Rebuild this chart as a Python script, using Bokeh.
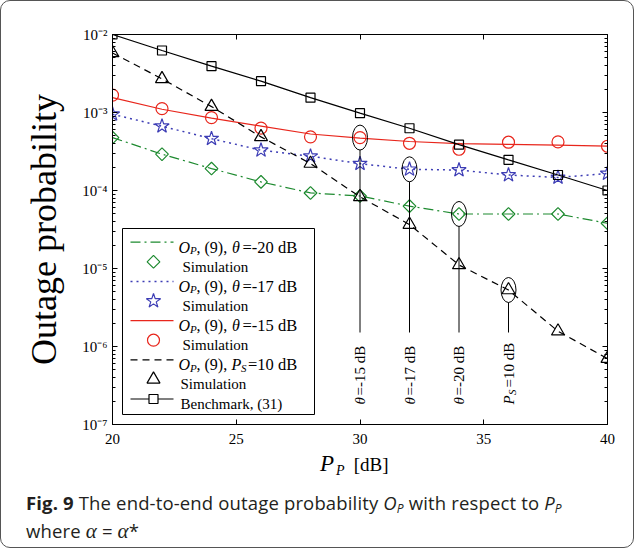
import math
from bokeh.plotting import figure
from bokeh.models import (LinearAxis, LogAxis, FixedTicker, CustomJSTickFormatter,
                          Div, Column)
from bokeh.core.properties import value
from bokeh.embed import file_html
from bokeh.resources import INLINE

# ---------------- data ----------------
pp = [20, 22, 24, 26, 28, 30, 32, 34, 36, 38, 40]

bench = [1.0e-2, 6.24e-3, 3.93e-3, 2.52e-3, 1.55e-3, 9.8e-4, 6.28e-4, 3.87e-4, 2.47e-4, 1.58e-4, 1.0e-4]
ps10 = [5.8e-3, 2.7e-3, 1.19e-3, 4.87e-4, 2.22e-4, 8.3e-5, 3.66e-5, 1.11e-5, 5.3e-6, 1.57e-6, 7.0e-7]
th15_line = [1.55e-3, 1.1e-3, 8.45e-4, 6.7e-4, 5.3e-4, 4.7e-4, 4.25e-4, 4.0e-4, 3.9e-4, 3.82e-4, 3.7e-4]
th15_sim = [1.67e-3, 1.12e-3, 8.6e-4, 6.3e-4, 4.87e-4, 4.77e-4, 4.03e-4, 3.38e-4, 4.16e-4, 4.2e-4, 3.69e-4]
th17 = [9.5e-4, 6.67e-4, 4.62e-4, 3.28e-4, 2.75e-4, 2.21e-4, 1.87e-4, 1.83e-4, 1.58e-4, 1.47e-4, 1.65e-4]
th20 = [4.77e-4, 2.92e-4, 1.91e-4, 1.29e-4, 9.3e-5, 8.5e-5, 6.3e-5, 5.0e-5, 5.0e-5, 5.0e-5, 3.8e-5]

x_ticks = [20, 25, 30, 35, 40]
y_ticks = [1e-7, 1e-6, 1e-5, 1e-4, 1e-3, 1e-2]

# indices of the circled points (theta=-15, -17, -20 dB, P_S=10 dB)
annot_idx = [5, 6, 7, 8]

GREEN = "#1d8a2f"
BLUE = "#3d3db5"
RED = "#e8261c"
SERIF = "Liberation Serif"

# ---------------- layout geometry ----------------
FW, FH = 495, 390          # frame size in px
FL, FT = 112, 34           # frame left/top on the page (for placing decorations)
X0, X1 = 20, 40
LT, LB = -2, -7


def dx(px):
    return X0 + (px - FL) * (X1 - X0) / FW


def dy(py):
    return 10 ** (LT - (py - FT) * (LT - LB) / FH)


def shift(v, px):
    # move a log-axis value down by px pixels
    return v * 10 ** (-px * (LT - LB) / FH)


p = figure(frame_width=FW, frame_height=FH, y_axis_type="log",
           x_range=(X0, X1), y_range=(10 ** LB, 10 ** LT),
           output_backend="svg", toolbar_location=None,
           min_border_left=111, min_border_right=26, min_border_top=33, min_border_bottom=30,
           background_fill_color="white", border_fill_color=None)
p.grid.visible = False
p.outline_line_color = "black"

sup_js = """
const e = Math.round(Math.log10(tick));
const m = {'-':'\u207b','0':'\u2070','1':'\u00b9','2':'\u00b2','3':'\u00b3','4':'\u2074','5':'\u2075','6':'\u2076','7':'\u2077','8':'\u2078','9':'\u2079'};
return '10' + String(e).split('').map(c => m[c]).join('');
"""
minor = [k * 10 ** e for e in range(-7, -2) for k in range(2, 10)]
yt = FixedTicker(ticks=y_ticks, minor_ticks=minor)
xt = FixedTicker(ticks=x_ticks, minor_ticks=[])
blank = CustomJSTickFormatter(code="return '';")

ax_l = p.yaxis[0]
ax_l.ticker = yt
ax_l.formatter = CustomJSTickFormatter(code=sup_js)
ax_l.axis_label = "Outage probability"
ax_l.axis_label_text_font = SERIF
ax_l.axis_label_text_font_size = "36px"
ax_l.axis_label_text_font_style = "normal"
ax_l.axis_label_text_color = "black"
ax_l.axis_label_standoff = 15
ax_l.major_label_standoff = 5

ax_b = p.xaxis[0]
ax_b.ticker = xt
ax_b.major_label_standoff = 9

ax_r = LogAxis(ticker=yt, formatter=blank)
ax_t = LinearAxis(ticker=xt, formatter=blank)
p.add_layout(ax_r, "right")
p.add_layout(ax_t, "above")

for ax in (ax_l, ax_b, ax_r, ax_t):
    ax.major_tick_in = 5
    ax.major_tick_out = 0
    ax.minor_tick_in = 3
    ax.minor_tick_out = 0
    ax.axis_line_color = "black"
    ax.major_tick_line_color = "black"
    ax.minor_tick_line_color = "black"
    ax.major_label_text_font = SERIF
    ax.major_label_text_font_size = "15px"
    ax.major_label_text_color = "black"

# ---------------- series ----------------
LW = 1.2
p.line(pp, th20, line_color=GREEN, line_width=LW, line_dash="10 4 2 4")
p.scatter(pp, th20, marker="square", angle=math.pi / 4, size=9, fill_color=None, line_color=GREEN, line_width=LW)

p.line(pp, th17, line_color=BLUE, line_width=1.5, line_dash="2 4")
p.scatter(pp, th17, marker="star", size=15, fill_color=None, line_color=BLUE, line_width=LW)

p.line(pp, th15_line, line_color=RED, line_width=LW)
p.scatter(pp, th15_sim, marker="circle", size=12, fill_color=None, line_color=RED, line_width=LW)

p.line(pp, ps10, line_color="black", line_width=LW, line_dash="7 5")
p.scatter(pp, ps10, marker="triangle", size=13, fill_color=None, line_color="black", line_width=LW)

p.line(pp, bench, line_color="black", line_width=LW)
p.scatter(pp, bench, marker="square", size=9, fill_color=None, line_color="black", line_width=LW)

# ---------------- annotations (ellipses + vertical labels) ----------------
ann_series = [th15_sim, th17, th20, ps10]
ax_x = [pp[i] for i in annot_idx]
ax_y = [s[i] for s, i in zip(ann_series, annot_idx)]
p.ellipse(ax_x, ax_y, width=15, height=25, width_units="screen", height_units="screen",
          fill_color=None, line_color="black", line_width=1)
p.segment(x0=ax_x, y0=[shift(v, 12.5) for v in ax_y], x1=ax_x, y1=[dy(332)] * 4,
          line_color="black", line_width=1)


def vtext(x, py, txt, italic=False, size=15, xoff=0):
    p.text(x=[x], y=[dy(py)], text=[txt], angle=math.pi / 2, text_align="left",
           text_baseline="middle", text_font=value(SERIF), text_font_size=f"{size}px",
           text_font_style="italic" if italic else "normal", text_color="black", x_offset=xoff)


for x, t in zip(ax_x[:3], ["=-15 dB", "=-17 dB", "=-20 dB"]):
    vtext(x, 404, "\u03b8", italic=True)
    vtext(x, 395, t)
vtext(ax_x[3], 404, "P", italic=True)
vtext(ax_x[3], 394.5, "S", italic=True, size=11, xoff=3)
vtext(ax_x[3], 387, "=10 dB")

# ---------------- legend (custom, to allow italic / subscripts) ----------------
p.quad(left=[dx(122)], right=[dx(314)], top=[dy(228)], bottom=[dy(414)],
       fill_color="white", line_color="black", line_width=1)

rows = [241.7 + 19.6 * i for i in range(9)]


def ltext(px, py, txt, italic=False, size=15):
    p.text(x=[dx(px)], y=[dy(py)], text=[txt], text_align="left", text_baseline="alphabetic",
           text_font=value(SERIF), text_font_size=f"{size}px",
           text_font_style="italic" if italic else "normal", text_color="black")


def sample_line(py, color, dash, width=LW):
    p.line([dx(130), dx(173)], [dy(py), dy(py)], line_color=color, line_width=width, line_dash=dash)


def op_label(py, tail_pieces):
    ltext(178, py + 5, "O", italic=True, size=16)
    ltext(189.5, py + 8, "P", italic=True, size=11)
    ltext(196, py + 5, ", (9), ", size=16)
    for px, t, it, sz, dyy in tail_pieces:
        ltext(px, py + dyy, t, italic=it, size=sz)


# theta = -20
sample_line(rows[0], GREEN, "10 4 2 4")
op_label(rows[0], [(231.5, "\u03b8", True, 16, 5), (242, "=-20 dB", False, 16.5, 5)])
p.scatter([dx(153)], [dy(rows[1])], marker="square", angle=math.pi / 4, size=9, fill_color=None,
          line_color=GREEN, line_width=LW)
ltext(182, rows[1] + 5, "Simulation")
# theta = -17
sample_line(rows[2], BLUE, "2 4", 1.5)
op_label(rows[2], [(231.5, "\u03b8", True, 16, 5), (242, "=-17 dB", False, 16.5, 5)])
p.scatter([dx(153)], [dy(rows[3])], marker="star", size=15, fill_color=None, line_color=BLUE, line_width=LW)
ltext(182, rows[3] + 5, "Simulation")
# theta = -15
sample_line(rows[4], RED, "solid")
op_label(rows[4], [(231.5, "\u03b8", True, 16, 5), (242, "=-15 dB", False, 16.5, 5)])
p.scatter([dx(153)], [dy(rows[5])], marker="circle", size=12, fill_color=None, line_color=RED, line_width=LW)
ltext(182, rows[5] + 5, "Simulation")
# P_S = 10 dB
sample_line(rows[6], "black", "7 5")
op_label(rows[6], [(231, "P", True, 16, 5), (240.5, "S", True, 11, 8), (247.5, "=10 dB", False, 16.5, 5)])
p.scatter([dx(153)], [dy(rows[7])], marker="triangle", size=13, fill_color=None, line_color="black", line_width=LW)
ltext(180, rows[7] + 5, "Simulation")
# benchmark
sample_line(rows[8], "black", "solid")
p.scatter([dx(153)], [dy(rows[8])], marker="square", size=9, fill_color="white", line_color="black", line_width=LW)
ltext(180, rows[8] + 5, "Benchmark, (31)")

# ---------------- x-axis label P_P [dB] (HTML, for italic + subscript) ----------------
xlab = Div(text=(
    "<div style=\"padding-left:319px; line-height:20px; white-space:nowrap; color:black;"
    " font-family:'Liberation Serif';\">"
    "<span style='font-size:23px; font-style:italic'>P</span>"
    "<span style='font-size:14px; font-style:italic; position:relative; top:4px; margin-left:2px'>P</span>"
    "<span style='font-size:19px; margin-left:9px'>[dB]</span></div>"),
    width=632, height=28, margin=(0, 0, 0, 0))

# ---------------- caption ----------------
sub = "font-size:12px; position:relative; top:3px"
cap = Div(text=(
    "<div style=\"padding-left:25px; padding-top:8px; font-family:'Open Sans'; font-size:18.5px;"
    " letter-spacing:0.15px; line-height:25px; color:#231f20; white-space:nowrap\">"
    "<b>Fig. 9</b> The end-to-end outage probability "
    f"<i>O<span style='{sub}'>P</span></i> with respect to "
    f"<i>P<span style='{sub}'>P</span></i><br>"
    "where <i style=\"font-family:'Liberation Serif'; font-size:21px\">\u03b1</i> = "
    "<i style=\"font-family:'Liberation Serif'; font-size:21px\">\u03b1</i>*</div>"),
    width=632, height=65, margin=(0, 0, 0, 0))

layout = Column(children=[p, xlab, cap], spacing=0,
                styles={"border": "1px solid #555", "border-radius": "10px"})

open("out.html", "w").write(file_html(layout, INLINE))
